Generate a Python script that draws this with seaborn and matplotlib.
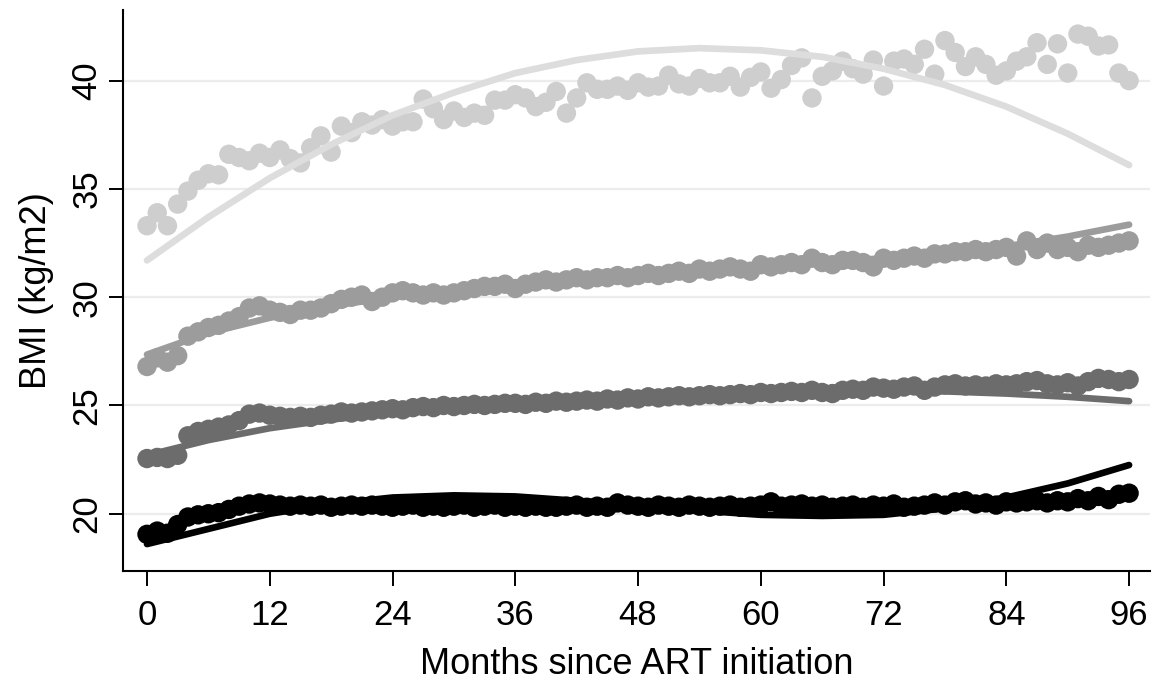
import numpy as np
import pandas as pd
import matplotlib.pyplot as plt
import seaborn as sns

# months since ART initiation, one observed mean per month
months = list(range(0, 97))

# mean BMI by month for the four baseline groups
bmi_light = [
    33.3, 33.9, 33.3, 34.3, 34.9, 35.4, 35.7, 35.65, 36.6, 36.45,
    36.3, 36.65, 36.45, 36.8, 36.4, 36.2, 36.9, 37.45, 36.7, 37.9,
    37.6, 38.1, 37.95, 38.2, 37.9, 38.1, 38.1, 39.15, 38.7, 38.2,
    38.6, 38.3, 38.5, 38.4, 39.1, 39.1, 39.35, 39.2, 38.8, 39.0,
    39.5, 38.5, 39.2, 39.9, 39.6, 39.6, 39.75,
    39.55, 39.9, 39.7, 39.75, 40.25, 39.85, 39.75, 40.1, 39.9, 39.9,
    40.2, 39.7, 40.15, 40.4, 39.65, 40.05, 40.7, 41.05, 39.2, 40.2,
    40.45, 40.9, 40.55, 40.3, 40.95, 39.75, 40.9, 41.0, 40.75, 41.45,
    40.3, 41.85, 41.3, 40.65, 41.1, 40.75, 40.25, 40.45, 40.9, 41.1,
    41.75, 40.75, 41.7, 40.35, 42.15, 42.05, 41.6, 41.65, 40.35, 40.0,
]
bmi_medium = [
    26.8, 27.2, 27.0, 27.3, 28.2, 28.4, 28.6, 28.7, 28.9, 29.1,
    29.5, 29.6, 29.4, 29.3, 29.2, 29.4, 29.4, 29.5, 29.7, 29.9,
    30.0, 30.1, 29.8, 30.0, 30.2, 30.3, 30.2, 30.1, 30.2, 30.1,
    30.2, 30.3, 30.4, 30.5, 30.5, 30.6, 30.4, 30.6, 30.7, 30.8,
    30.7, 30.8, 30.9, 30.8, 30.9, 30.9, 31.0, 30.9, 31.0, 31.1,
    31.0, 31.1, 31.2, 31.1, 31.3, 31.2, 31.3, 31.4, 31.3, 31.2,
    31.5, 31.4, 31.5, 31.6, 31.5, 31.8, 31.6, 31.5, 31.7, 31.7,
    31.6, 31.4, 31.8, 31.7, 31.8, 31.9, 31.8, 32.0, 32.0, 32.1,
    32.1, 32.2, 32.1, 32.2, 32.3, 31.9, 32.6, 32.2, 32.5, 32.2,
    32.3, 32.1, 32.4, 32.3, 32.4, 32.5, 32.6,
]
bmi_dark = [
    22.55, 22.6, 22.55, 22.7, 23.6, 23.8, 23.9, 24.0, 24.1, 24.3,
    24.6, 24.65, 24.55, 24.5, 24.45, 24.5, 24.45, 24.55, 24.6, 24.7,
    24.65, 24.7, 24.75, 24.8, 24.85, 24.8, 24.9, 24.95, 24.9, 25.0,
    24.95, 25.0, 25.05, 25.0, 25.05, 25.1, 25.1, 25.05, 25.15, 25.1,
    25.2, 25.15, 25.2, 25.25, 25.2, 25.3, 25.25, 25.35, 25.3, 25.4,
    25.35, 25.4, 25.45, 25.4, 25.45, 25.5, 25.45, 25.5, 25.55, 25.5,
    25.6, 25.55, 25.6, 25.65, 25.6, 25.7, 25.6, 25.55, 25.7, 25.75,
    25.7, 25.85, 25.8, 25.75, 25.85, 25.9, 25.7, 25.85, 25.95, 26.0,
    25.9, 25.95, 25.9, 26.0, 25.95, 26.0, 26.1, 26.15, 26.0, 25.95,
    26.05, 25.9, 26.1, 26.25, 26.2, 26.1, 26.2,
]
bmi_black = [
    19.05, 19.2, 19.1, 19.5, 19.85, 19.95, 20.0, 20.05, 20.2, 20.35,
    20.45, 20.5, 20.45, 20.4, 20.35, 20.4, 20.35, 20.4, 20.3, 20.35,
    20.4, 20.35, 20.4, 20.35, 20.3, 20.35, 20.4, 20.3, 20.35, 20.3,
    20.35, 20.4, 20.3, 20.35, 20.4, 20.3, 20.35, 20.3, 20.35, 20.3,
    20.3, 20.35, 20.4, 20.3, 20.35, 20.3, 20.5, 20.4, 20.35, 20.3,
    20.4, 20.35, 20.3, 20.4, 20.35, 20.3, 20.35, 20.4, 20.3, 20.35,
    20.4, 20.55, 20.35, 20.4, 20.45, 20.35, 20.4, 20.3, 20.35, 20.4,
    20.3, 20.4, 20.35, 20.45, 20.3, 20.35, 20.4, 20.5, 20.4, 20.55,
    20.6, 20.45, 20.5, 20.4, 20.55, 20.5, 20.55, 20.6, 20.5, 20.6,
    20.55, 20.7, 20.6, 20.8, 20.65, 20.9, 20.95,
]

# fitted curves, read every 6 months
fit_months = list(range(0, 97, 6))
fit_light = [31.7, 33.7, 35.5, 37.05, 38.4, 39.45, 40.35, 40.95, 41.35,
             41.5, 41.4, 41.1, 40.55, 39.8, 38.8, 37.55, 36.1]
fit_medium = [27.35, 28.35, 29.05, 29.6, 30.0, 30.35, 30.6, 30.85, 31.05,
              31.25, 31.45, 31.6, 31.8, 32.05, 32.35, 32.8, 33.35]
fit_dark = [22.7, 23.4, 23.95, 24.35, 24.65, 24.9, 25.1, 25.3, 25.45,
            25.55, 25.65, 25.7, 25.7, 25.65, 25.55, 25.4, 25.2]
fit_black = [18.6, 19.3, 20.0, 20.45, 20.75, 20.85, 20.8, 20.6, 20.4,
             20.15, 19.95, 19.9, 19.95, 20.25, 20.75, 21.4, 22.25]

groups = ['g1', 'g2', 'g3', 'g4']
point_colors = ['#cecece', '#9c9c9c', '#6c6c6c', '#000000']
line_colors = ['#dddddd', '#9c9c9c', '#6c6c6c', '#000000']

pts = pd.concat([
    pd.DataFrame({'month': months, 'bmi': vals, 'group': g})
    for g, vals in zip(groups, [bmi_light, bmi_medium, bmi_dark, bmi_black])
], ignore_index=True)
fits = pd.concat([
    pd.DataFrame({'month': fit_months, 'bmi': vals, 'group': g})
    for g, vals in zip(groups, [fit_light, fit_medium, fit_dark, fit_black])
], ignore_index=True)

sns.set_style('ticks')
plt.rcParams['font.family'] = ['Liberation Sans', 'DejaVu Sans']
plt.rcParams['text.color'] = 'black'
plt.rcParams['axes.labelcolor'] = 'black'
plt.rcParams['xtick.color'] = 'black'
plt.rcParams['ytick.color'] = 'black'

fig, ax = plt.subplots(figsize=(11.6, 6.84), dpi=100)
fig.subplots_adjust(left=0.106, right=0.991, bottom=0.165, top=0.985)

for y in [20, 25, 30, 35, 40]:
    ax.axhline(y, color='#ececec', lw=1.6, zorder=0)

sns.scatterplot(data=pts, x='month', y='bmi', hue='group', hue_order=groups,
                palette=point_colors, s=195, linewidth=0, alpha=1,
                legend=False, ax=ax, zorder=2)
sns.lineplot(data=fits, x='month', y='bmi', hue='group', hue_order=groups,
             palette=line_colors, linewidth=4.8, estimator=None,
             legend=False, ax=ax, zorder=3)

ax.set_xlim(-2.35, 98.0)
ax.set_ylim(17.35, 43.25)
ax.set_xticks(range(0, 97, 12))
ax.set_yticks([20, 25, 30, 35, 40])
ax.set_xlabel('Months since ART initiation', fontsize=26, labelpad=11)
ax.set_ylabel('BMI (kg/m2)', fontsize=26, labelpad=12)

ax.tick_params(axis='x', labelsize=25, length=11, width=1.4, pad=9,
               colors='black')
ax.tick_params(axis='y', labelsize=25, length=10, width=1.4, pad=4,
               colors='black')
plt.setp(ax.get_yticklabels(), rotation=90, va='center')

sns.despine(ax=ax)
for side in ['left', 'bottom']:
    ax.spines[side].set_linewidth(1.5)
    ax.spines[side].set_color('black')

fig.savefig('out.png', dpi=100)
